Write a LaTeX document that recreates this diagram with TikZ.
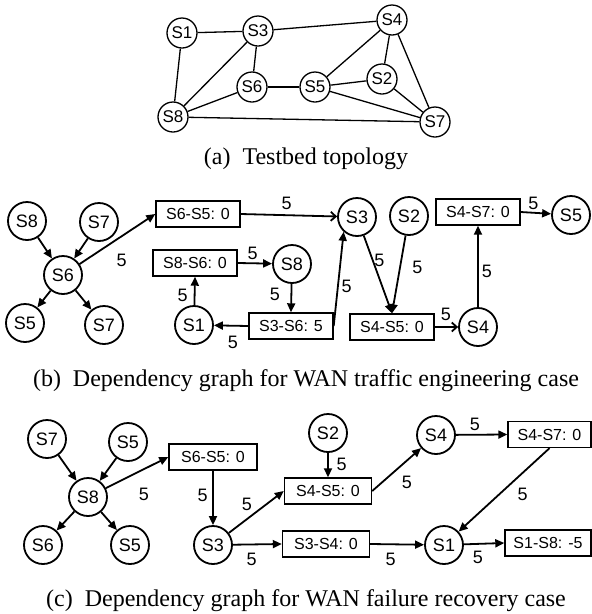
\documentclass[tikz,border=0pt]{standalone}
\usepackage{fontspec}
\setmainfont{Liberation Serif}
\setsansfont{Liberation Sans}
\usetikzlibrary{arrows.meta}
\begin{document}
\begin{tikzpicture}[x=1pt,y=-1pt,
  sw/.style={circle,draw,line width=1.3pt,minimum size=30pt,inner sep=0pt,font=\sffamily\fontsize{17}{17}\selectfont},
  sn/.style={circle,draw,line width=1.8pt,minimum size=38pt,inner sep=0pt,font=\sffamily\fontsize{18}{18}\selectfont},
  fl/.style={rectangle,draw,line width=1.4pt,minimum width=84pt,minimum height=26pt,inner sep=0pt,font=\sffamily\fontsize{16}{16}\selectfont},
  topo/.style={line width=1.3pt},
  dep/.style={line width=1.8pt,-{Triangle[length=9pt,width=8pt]}},
  depo/.style={line width=1.8pt,-{Straight Barb[length=5pt,width=9pt]}},
  wt/.style={font=\sffamily\fontsize{18}{18}\selectfont,inner sep=0pt},
  capt/.style={font=\fontsize{24}{24}\selectfont,anchor=base,inner sep=0pt}
]
\useasboundingbox (0,0) rectangle (592,614);

% ---------- (a) topology ----------
\node[sw] (a1) at (182,33) {S1};
\node[sw] (a3) at (258,31) {S3};
\node[sw] (a4) at (392,20) {S4};
\node[sw] (a6) at (252,87) {S6};
\node[sw] (a5) at (315,87) {S5};
\node[sw] (a2) at (382,79) {S2};
\node[sw] (a8) at (173,117) {S8};
\node[sw] (a7) at (435,122) {S7};
\draw[topo] (a1) -- (a3);
\draw[topo] (a1) -- (a8);
\draw[topo] (a3) -- (a4);
\draw[topo] (a3) -- (a8);
\draw[topo] (a3) -- (a6);
\draw[topo] (a6) -- (a5);
\draw[topo] (a6) -- (a8);
\draw[topo] (a5) -- (a4);
\draw[topo] (a5) -- (a2);
\draw[topo] (a5) -- (a7);
\draw[topo] (a4) -- (a2);
\draw[topo] (a4) -- (a7);
\draw[topo] (a2) -- (a7);
\draw[topo] (a8) -- (a7);
\node[capt] (capa) at (306,164) {(a)\ \ Testbed topology};

% ---------- (b) traffic engineering ----------
\node[sn] (b8) at (27,221) {S8};
\node[sn] (b7) at (99,222) {S7};
\node[sn] (b6) at (63,275) {S6};
\node[sn] (b5) at (25,323) {S5};
\node[sn] (b7b) at (104,325) {S7};
\node[fl] (f65) at (198,214) {S6-S5: 0};
\node[sn] (b3) at (357,217) {S3};
\node[fl] (f86) at (195,263) {S8-S6: 0};
\node[sn] (b8m) at (292,264) {S8};
\node[sn] (b1) at (194,325) {S1};
\node[fl] (f36) at (291,326) {S3-S6: 5};
\node[sn] (b2) at (409,216) {S2};
\node[fl] (f47) at (478,212) {S4-S7: 0};
\node[sn] (b5r) at (571,215) {S5};
\node[fl] (f45) at (392,327) {S4-S5: 0};
\node[sn] (b4) at (478,327) {S4};

\draw[dep] (b8) -- (b6);
\draw[dep] (b7) -- (b6);
\draw[dep] (b6) -- (b5);
\draw[dep] (b6) -- (b7b);
\draw[dep] (b6) -- (f65.west);
\draw[depo] (f65.east) -- (b3);
\draw[dep] (f86.east) -- (b8m);
\draw[dep] (b8m) -- (f36.north);
\draw[dep] (f36.west) -- (b1);
\draw[dep] (b1) -- (f86.south);
\draw[dep] (f36.east) -- (b3.228);
\draw[dep] (b3) -- (f45.north);
\draw[dep] (b2) -- (f45.north);
\draw[depo] (f45.east) -- (b4);
\draw[dep] (b4) -- (f47.south);
\draw[dep] (f47.east) -- (b5r);

\node[wt] (lb1) at (121.7,260) {5};
\node[wt] (lb2) at (286.7,203) {5};
\node[wt] (lb3) at (252.7,253) {5};
\node[wt] (lb4) at (275,294) {5};
\node[wt] (lb5) at (182.7,295) {5};
\node[wt] (lb6) at (233,342) {5};
\node[wt] (lb7) at (346.7,286) {5};
\node[wt] (lb8) at (379.3,260) {5};
\node[wt] (lb9) at (417.3,267) {5};
\node[wt] (lb10) at (487,271) {5};
\node[wt] (lb11) at (446,314) {5};
\node[wt] (lb12) at (533.3,203) {5};
\node[capt] (capb) at (306,386) {(b)\ \ Dependency graph for WAN traffic engineering case};

% ---------- (c) failure recovery ----------
\node[sn] (c7) at (47,439) {S7};
\node[sn] (c5t) at (128,442) {S5};
\node[sn] (c8) at (88,497) {S8};
\node[sn] (c6) at (43,545) {S6};
\node[sn] (c5b) at (130,545) {S5};
\node[fl,minimum width=88pt] (g65) at (213,457) {S6-S5: 0};
\node[sn] (c3) at (213,545) {S3};
\node[sn] (c2) at (328,433) {S2};
\node[fl,minimum width=87pt] (g45) at (328,491) {S4-S5: 0};
\node[fl,minimum width=87pt] (g34) at (326,544) {S3-S4: 0};
\node[sn] (c4) at (436,435) {S4};
\node[fl,minimum width=83pt] (g47) at (549.5,434.5) {S4-S7: 0};
\node[sn] (c1) at (444,545) {S1};
\node[fl,minimum width=86pt] (g18) at (548,543) {S1-S8: -5};

\draw[dep] (c7) -- (c8);
\draw[dep] (c5t) -- (c8);
\draw[dep] (c8) -- (c6);
\draw[dep] (c8) -- (c5b);
\draw[dep] (c8) -- (g65.west);
\draw[dep] (g65.south) -- (c3);
\draw[dep] (c3) -- (g45.west);
\draw[dep] (c3) -- (g34.west);
\draw[dep] (c2) -- (g45.north);
\draw[dep] (g45.east) -- (c4);
\draw[dep] (c4) -- (g47.west);
\draw[dep] (g47.south) -- (c1);
\draw[dep] (g34.east) -- (c1);
\draw[dep] (c1) -- (g18.west);

\node[wt] (lc1) at (144,494) {5};
\node[wt] (lc2) at (202.7,495) {5};
\node[wt] (lc3) at (247,504) {5};
\node[wt] (lc4) at (251.7,559) {5};
\node[wt] (lc5) at (341.7,464) {5};
\node[wt] (lc6) at (407,482) {5};
\node[wt] (lc7) at (475,424) {5};
\node[wt] (lc8) at (522.7,494) {5};
\node[wt] (lc9) at (390.7,559) {5};
\node[wt] (lc10) at (478,557) {5};
\node[capt] (capc) at (306,606) {(c)\ \ Dependency graph for WAN failure recovery case};
\end{tikzpicture}
\end{document}
